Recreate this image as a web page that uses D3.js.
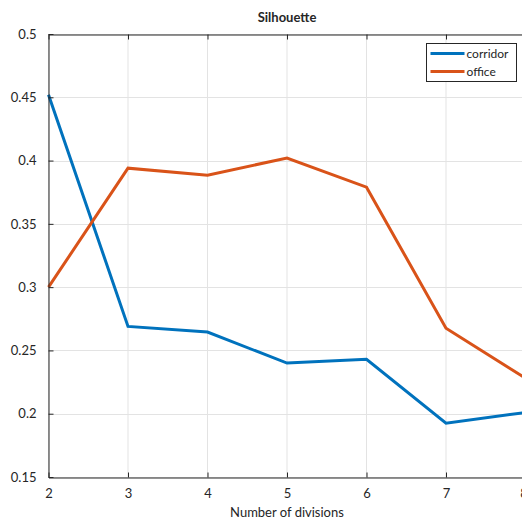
<!DOCTYPE html>
<html>
<head>
<meta charset="utf-8">
<script src="https://cdn.jsdelivr.net/npm/d3@7"></script>
<style>
  body { margin: 0; background: #fff; }
  svg text { font-family: Lato, "Open Sans", sans-serif; fill: #262626; }
</style>
</head>
<body>
<svg id="chart" width="522" height="519"></svg>
<script>
// data
var divisions = [2, 3, 4, 5, 6, 7, 8];
var corridor = [0.452, 0.269, 0.2645, 0.240, 0.243, 0.1925, 0.201];
var office = [0.300, 0.394, 0.3885, 0.402, 0.379, 0.2675, 0.228];
var seriesNames = ["corridor", "office"];
var yTicks = [0.15, 0.2, 0.25, 0.3, 0.35, 0.4, 0.45, 0.5];

var svg = d3.select("#chart");
var pLeft = 48.5, pTop = 34, pRight = 525.5, pBottom = 477;

var x = d3.scaleLinear().domain([2, 8]).range([pLeft, pRight]);
var y = d3.scaleLinear().domain([0.15, 0.5]).range([pBottom, pTop]);
var color = d3.scaleOrdinal().domain(seriesNames).range(["#0072BD", "#D95319"]);

var g = svg.append("g");

// grid
g.selectAll(".gx").data(divisions).enter().append("line")
    .attr("x1", function (d) { return x(d); }).attr("x2", function (d) { return x(d); })
    .attr("y1", pTop).attr("y2", pBottom)
    .attr("stroke", "#e3e3e3").attr("stroke-width", 1);
g.selectAll(".gy").data(yTicks).enter().append("line")
    .attr("x1", pLeft).attr("x2", pRight)
    .attr("y1", function (d) { return Math.round(y(d)) + 0.5; })
    .attr("y2", function (d) { return Math.round(y(d)) + 0.5; })
    .attr("stroke", "#e3e3e3").attr("stroke-width", 1);

// lines
var line = d3.line()
    .x(function (d, i) { return x(divisions[i]); })
    .y(function (d) { return y(d); });

[corridor, office].forEach(function (s, i) {
    g.append("path")
        .attr("d", line(s))
        .attr("fill", "none")
        .attr("stroke", color(seriesNames[i]))
        .attr("stroke-width", 3)
        .attr("stroke-linejoin", "miter");
});

// axes (ticks inward, MATLAB box style)
var fmtY = function (d) { return String(+d.toFixed(2)); };
var xAxis = svg.append("g")
    .attr("transform", "translate(0," + (pBottom + 0.5) + ")")
    .call(d3.axisBottom(x).tickValues(divisions).tickFormat(d3.format("d"))
        .tickSizeInner(-5).tickSizeOuter(0).tickPadding(11));
var xTop = svg.append("g")
    .attr("transform", "translate(0," + (pTop + 0.5) + ")")
    .call(d3.axisTop(x).tickValues(divisions).tickSizeInner(-5).tickSizeOuter(0).tickFormat(""));
var yAxis = svg.append("g")
    .attr("transform", "translate(" + pLeft + ",0)")
    .call(d3.axisLeft(y).tickValues(yTicks).tickSizeInner(-5).tickSizeOuter(0).tickPadding(12).tickFormat(fmtY));

[xAxis, xTop, yAxis].forEach(function (a) {
    a.select(".domain").attr("stroke", "#262626");
    a.selectAll(".tick line").attr("stroke", "#262626");
    a.selectAll("text").attr("font-size", 13).attr("fill", "#262626")
        .style("font-family", "Lato, 'Open Sans', sans-serif");
});
// the "8" sits on the clipped right edge; pull it in a little so a sliver shows
xAxis.selectAll(".tick text").filter(function (d) { return d === 8; }).attr("dx", -2);

// labels
svg.append("text").attr("x", 287).attr("y", 22).attr("text-anchor", "middle")
    .attr("font-size", 13).attr("font-weight", "bold").text("Silhouette");
svg.append("text").attr("x", 287).attr("y", 517).attr("text-anchor", "middle")
    .attr("font-size", 13).text("Number of divisions");

// legend
var lg = svg.append("g").attr("transform", "translate(426.5,43.5)");
lg.append("rect").attr("width", 90).attr("height", 38)
    .attr("fill", "#fff").attr("stroke", "#262626").attr("stroke-width", 1);
seriesNames.forEach(function (n, i) {
    var yy = 10 + i * 18;
    lg.append("line").attr("x1", 4).attr("x2", 38).attr("y1", yy).attr("y2", yy)
        .attr("stroke", color(n)).attr("stroke-width", 3);
    lg.append("text").attr("x", 40).attr("y", yy + 4).attr("font-size", 12).text(n);
});
</script>
</body>
</html>
